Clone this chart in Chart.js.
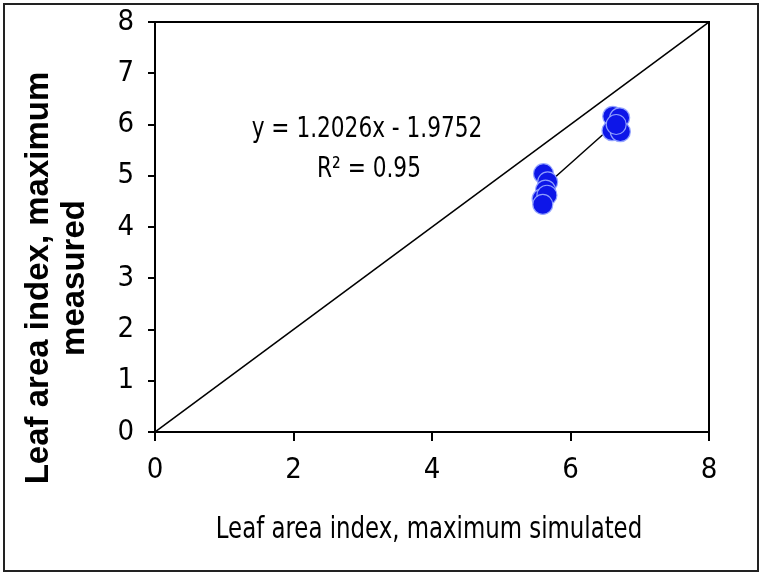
<!DOCTYPE html>
<html>
<head>
<meta charset="utf-8">
<script src="https://cdn.jsdelivr.net/npm/chart.js@4.4.1/dist/chart.umd.min.js"></script>
<style>
    html, body { margin: 0; padding: 0; background: #fff; }
    #wrap { width: 762px; height: 575px; position: relative; }
</style>
</head>
<body>
<div id="wrap"><canvas id="chart" width="762" height="575"></canvas></div>
<script>
const simulated = [5.61, 5.67, 5.64, 5.59, 5.66, 5.60, 6.61, 6.71, 6.60, 6.72, 6.66];
const measured = [5.04, 4.88, 4.72, 4.55, 4.62, 4.44, 6.16, 6.13, 5.88, 5.86, 6.00];
const oneToOne = [0, 8];
const trendSlope = 1.2026;
const trendIntercept = -1.9752;
const equationText = 'y = 1.2026x - 1.9752';
const r2Text = 'R² = 0.95';
const xTitle = 'Leaf area index, maximum simulated';
const yTitle = ['Leaf area index, maximum', 'measured'];

const NARROW = '"Liberation Sans Narrow", "DejaVu Sans Condensed", sans-serif';

const points = simulated.map((x, i) => ({ x, y: measured[i] }));
const xMin = Math.min(...simulated);
const xMax = Math.max(...simulated);
const trend = [xMin, xMax].map(x => ({ x, y: trendSlope * x + trendIntercept }));

// draws condensed text by squeezing the context horizontally
function narrowText(ctx, text, x, y, squeeze) {
    ctx.save();
    ctx.translate(x, y);
    ctx.scale(squeeze, 1);
    ctx.fillText(text, 0, 0);
    ctx.restore();
}

const decorations = {
    id: 'decorations',
    beforeDraw(chart) {
        const { ctx } = chart;
        ctx.save();
        ctx.fillStyle = '#fff';
        ctx.fillRect(0, 0, chart.width, chart.height);
        ctx.strokeStyle = '#222';
        ctx.lineWidth = 2;
        ctx.strokeRect(4, 4, chart.width - 8, chart.height - 8);
        ctx.restore();
    },
    beforeDatasetsDraw(chart) {
        const { ctx, chartArea: a } = chart;
        ctx.save();
        ctx.strokeStyle = '#000';
        ctx.lineWidth = 2;
        ctx.strokeRect(a.left, a.top, a.right - a.left, a.bottom - a.top);
        ctx.restore();
    },
    afterDraw(chart) {
        const { ctx } = chart;
        ctx.save();
        ctx.fillStyle = '#000';
        ctx.textAlign = 'center';
        ctx.textBaseline = 'middle';
        ctx.font = '28px ' + NARROW;
        narrowText(ctx, equationText, 367, 130, 0.86);
        narrowText(ctx, r2Text, 369, 170, 0.86);

        ctx.font = '31px ' + NARROW;
        narrowText(ctx, xTitle, 429, 530, 0.82);

        ctx.font = 'bold 33px "Liberation Sans", Arial, sans-serif';
        ctx.translate(0, 278);
        ctx.rotate(-Math.PI / 2);
        ctx.fillText(yTitle[0], 0, 39);
        ctx.fillText(yTitle[1], 0, 75);
        ctx.restore();
    }
};

new Chart(document.getElementById('chart'), {
    type: 'scatter',
    data: {
        datasets: [
            {
                type: 'line',
                data: oneToOne.map(v => ({ x: v, y: v })),
                borderColor: '#000',
                borderWidth: 1.5,
                pointRadius: 0,
                order: 3,
            },
            {
                type: 'line',
                data: trend,
                borderColor: '#000',
                borderWidth: 1.5,
                pointRadius: 0,
                order: 2,
            },
            {
                data: points,
                backgroundColor: '#0d16e8',
                borderColor: 'rgba(150,165,255,0.95)',
                borderWidth: 1.2,
                pointRadius: 10,
                order: 1,
            },
        ],
    },
    options: {
        responsive: false,
        animation: false,
        layout: { padding: { left: 0, right: 53, top: 22, bottom: 10 } },
        plugins: {
            legend: { display: false },
            tooltip: { enabled: false },
        },
        scales: {
            x: {
                type: 'linear',
                min: 0,
                max: 8,
                ticks: {
                    stepSize: 2,
                    color: '#000',
                    padding: 12,
                    font: { family: NARROW, size: 29 },
                },
                grid: { drawOnChartArea: false, drawTicks: true, tickLength: 9, color: '#000', lineWidth: 2 },
                border: { color: '#000', width: 2 },
                afterFit(scale) {
                    scale.height = 575 - 432 - 10;
                    scale.paddingLeft = 0;
                    scale.paddingRight = 0;
                },
            },
            y: {
                type: 'linear',
                min: 0,
                max: 8,
                ticks: {
                    stepSize: 1,
                    color: '#000',
                    padding: 14,
                    font: { family: NARROW, size: 29 },
                },
                grid: { drawOnChartArea: false, drawTicks: true, tickLength: 7, color: '#000', lineWidth: 2 },
                border: { color: '#000', width: 2 },
                afterFit(scale) {
                    scale.width = 155;
                    scale.paddingTop = 0;
                    scale.paddingBottom = 0;
                },
            },
        },
    },
    plugins: [decorations],
});
</script>
</body>
</html>
